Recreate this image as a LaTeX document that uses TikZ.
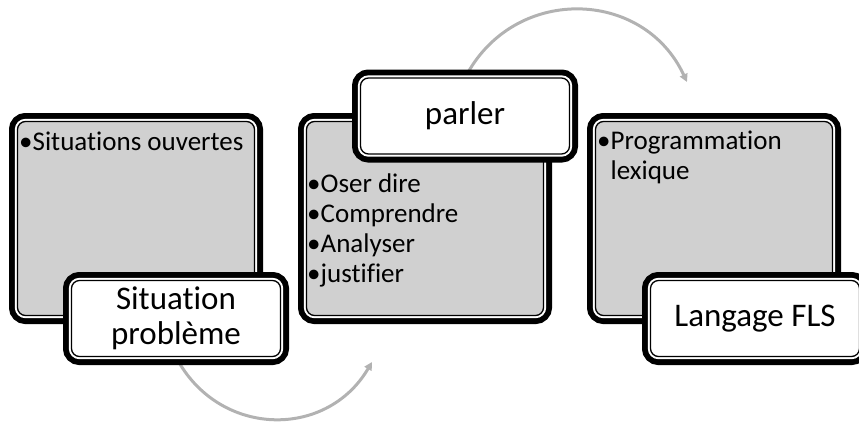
\documentclass[tikz,border=0pt]{standalone}
\usepackage{fontspec}
\setmainfont[Ligatures=CommonOff]{Carlito}
\usetikzlibrary{arrows.meta}
\definecolor{boxgray}{RGB}{208,208,208}
\definecolor{arcgray}{RGB}{178,178,178}
\begin{document}
\begin{tikzpicture}[x=1pt,y=-1pt,
  frame/.style={rectangle, rounded corners=8pt, draw=black, line width=1.3pt,
    inner sep=0pt, outer sep=0pt,
    preaction={draw=black, line width=17pt},
    preaction={draw=white, line width=5.3pt}},
  graybox/.style={frame, fill=boxgray, minimum width=237pt, minimum height=194pt},
  labelbox/.style={frame, fill=white, minimum width=209pt, minimum height=76pt,
    align=center, font=\fontsize{33}{35}\selectfont},
  bullets/.style={anchor=base west, inner sep=0pt, align=left,
    font=\fontsize{27}{30}\selectfont},
  arc/.style={draw=arcgray, line width=3pt, -{Triangle[length=8pt,width=8pt]}}]
\useasboundingbox (0,0) rectangle (859,421);
\coordinate (e1) at (687,82);
\coordinate (e2) at (372,362);
\coordinate (s1) at (465,78);
\coordinate (s2) at (176,357);
\draw[arc] (s1) to[bend left=64, looseness=1.2] (e1);
\draw[arc] (s2) to[bend right=61, looseness=1.18] (e2);
\node[graybox] (g1) at (136,218.5) {};
\node[graybox] (g2) at (425,218.5) {};
\node[graybox] (g3) at (714,218.5) {};
\node[bullets] (t1) at (19,150) {•Situations ouvertes};
\node[bullets] (t2) at (307,282) {•Oser dire\\•Comprendre\\•Analyser\\•justifier};
\node[bullets] (t3) at (597,179) {•Programmation\\\hphantom{•}lexique};
\node[labelbox] (l1) at (176,318.5) {Situation\\problème};
\node[labelbox] (l2) at (465,116) {parler};
\node[labelbox] (l3) at (755,318.5) {Langage FLS};
\end{tikzpicture}
\end{document}
